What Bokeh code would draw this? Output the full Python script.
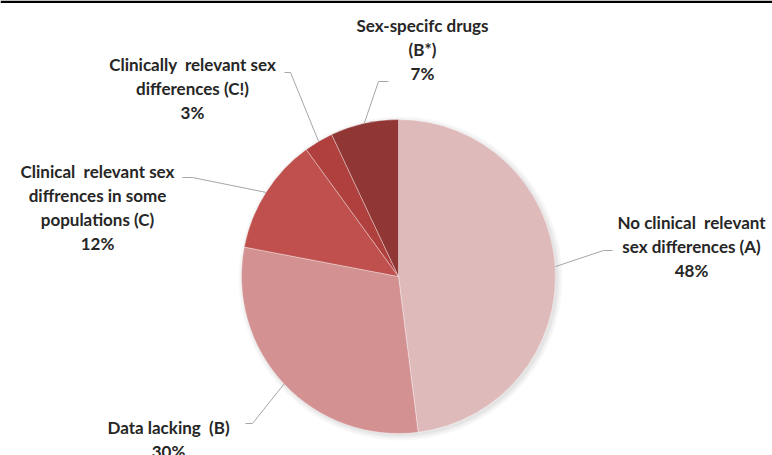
import math
from bokeh.plotting import figure
from bokeh.models import Range1d
from bokeh.core.properties import value
from bokeh.embed import file_html
from bokeh.resources import INLINE

# ---- data ----
categories = [
    "No clinical\u00a0 relevant\nsex differences (A)",
    "Data lacking\u00a0 (B)",
    "Clinical\u00a0 relevant sex\ndiffrences in some\npopulations (C)",
    "Clinically\u00a0 relevant sex\ndifferences (C!)",
    "Sex-specifc drugs\n(B*)",
]
percents = [48, 30, 12, 3, 7]
colors = ["#DFBABB", "#D39192", "#C0504D", "#AF403D", "#903735"]

# ---- layout (pixels, origin top-left) ----
W, H = 772, 455
CX, CY, R = 398, 276, 157
label_xy = [(691, 222), (168, 427), (97, 171), (192, 64), (422, 25)]
elbow = [[(603, 250), (612, 250)],
         [(252, 423), (245, 423)],
         [(192, 177), (182, 177)],
         [(290, 72), (284, 72)],
         [(378, 81), (388, 81)]]
LINE_H = 24

def Y(yp):
    return H - yp

p = figure(width=W, height=H, output_backend="svg", toolbar_location=None,
           x_range=Range1d(0, W), y_range=Range1d(0, H), min_border=0)
p.axis.visible = False
p.grid.visible = False
p.outline_line_color = None
p.background_fill_color = "white"

# top black rule
p.quad(left=0, right=W, bottom=Y(2.5), top=Y(0), fill_color="black", line_color=None)

# soft shadow
for i, a in enumerate([0.05, 0.05, 0.06, 0.07]):
    p.circle(x=CX + 2, y=Y(CY + 2), radius=R + 5 - i * 1.5,
             fill_color="#808080", fill_alpha=a, line_color=None)

# wedges
total = sum(percents)
cum = 0.0
starts, ends, mids = [], [], []
for v in percents:
    f0 = cum / total
    cum += v
    f1 = cum / total
    starts.append(math.pi / 2 - 2 * math.pi * f0)
    ends.append(math.pi / 2 - 2 * math.pi * f1)
    mids.append((f0 + f1) / 2)

p.wedge(x=[CX] * len(percents), y=[Y(CY)] * len(percents), radius=R,
        start_angle=starts, end_angle=ends, direction="clock",
        fill_color=colors, line_color="white", line_width=0.6, line_alpha=0.6)

# leader lines
for m, el in zip(mids, elbow):
    ang = 2 * math.pi * m
    sx = CX + R * math.sin(ang)
    sy = CY - R * math.cos(ang)
    xs = [sx] + [e[0] for e in el]
    ys = [Y(sy)] + [Y(e[1]) for e in el]
    p.line(xs, ys, line_color="#A6A6A6", line_width=1)

# labels
for cat, pct, (lx, ly) in zip(categories, percents, label_xy):
    lines = cat.split("\n") + [f"{pct}%"]
    for k, t in enumerate(lines):
        p.text(x=[lx], y=[Y(ly + k * LINE_H)], text=[t],
               text_font=value("Lato"), text_font_style="bold",
               text_font_size="17px", text_color="#262626",
               text_align="center", text_baseline="middle")

open("out.html", "w").write(file_html(p, INLINE))
